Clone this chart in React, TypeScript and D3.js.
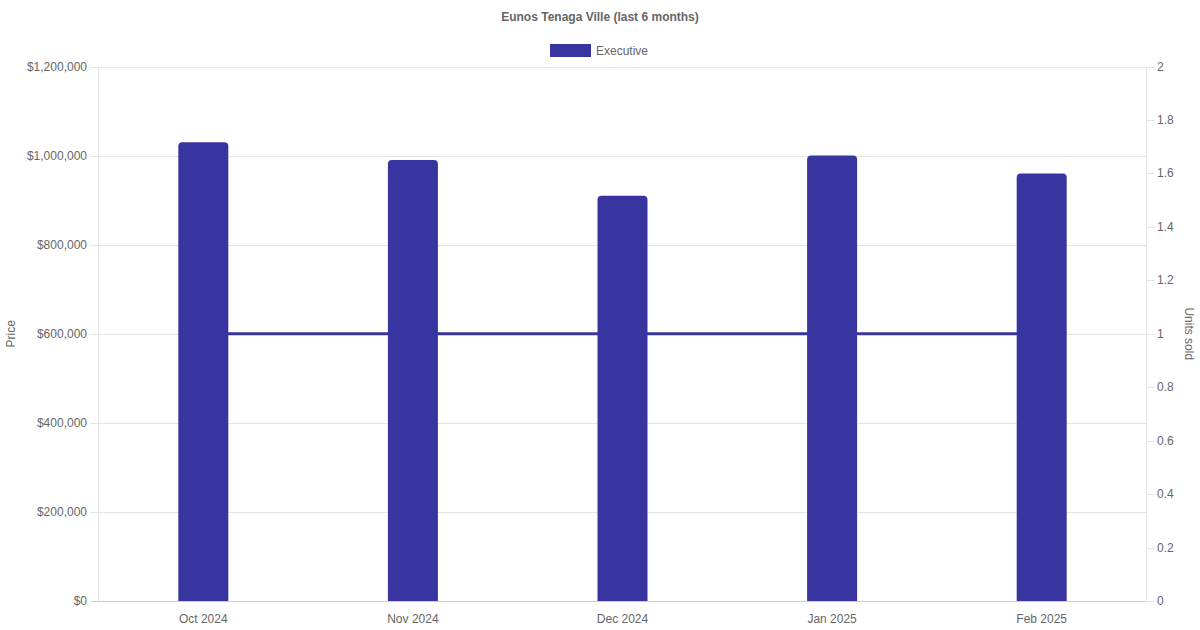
import React from "react";
import * as d3 from "d3";

const months = ["Oct 2024", "Nov 2024", "Dec 2024", "Jan 2025", "Feb 2025"];
const prices = [1030000, 990000, 910000, 1000000, 960000];
const unitsSold = [1, 1, 1, 1, 1];
const priceTicks = [0, 200000, 400000, 600000, 800000, 1000000, 1200000];
const unitTicks = [0, 0.2, 0.4, 0.6, 0.8, 1, 1.2, 1.4, 1.6, 1.8, 2];

const W = 1200;
const H = 630;
const left = 98.5;
const right = 1146.5;
const top = 66.5;
const bottom = 601;
const color = "#3834a0";
const textColor = "#666";
const font = "'Liberation Sans', Arial, sans-serif";

export default function App() {
  const x = d3.scaleBand<string>().domain(months).range([left, right]);
  const yL = d3.scaleLinear().domain([0, 1200000]).range([bottom, top]);
  const yR = d3.scaleLinear().domain([0, 2]).range([bottom, top]);
  const fmt = (v: number) => "$" + d3.format(",")(v);
  const barW = 50;
  const r = 4;
  const line = d3
    .line<number>()
    .x((_, i) => (x(months[i]) as number) + x.bandwidth() / 2)
    .y((d) => yR(d));

  const barPath = (cx: number, yt: number) => {
    const x0 = cx - barW / 2;
    const x1 = cx + barW / 2;
    return `M${x0},${bottom} L${x0},${yt + r} Q${x0},${yt} ${x0 + r},${yt} L${x1 - r},${yt} Q${x1},${yt} ${x1},${yt + r} L${x1},${bottom} Z`;
  };

  return (
    <svg
      width={W}
      height={H}
      style={{ position: "absolute", left: 0, top: 0, background: "#fff" }}
      fontFamily={font}
    >
      <text x={600} y={21} textAnchor="middle" fontSize={12} fontWeight="bold" fill={textColor}>
        Eunos Tenaga Ville (last 6 months)
      </text>
      <rect x={550.5} y={44.5} width={40} height={12} fill={color} stroke={color} strokeWidth={1} />
      <text x={596} y={54.5} fontSize={12} fill={textColor}>
        Executive
      </text>

      {priceTicks.map((t) => (
        <g key={"l" + t}>
          <line
            x1={left - 8}
            x2={right}
            y1={Math.round(yL(t)) + 0.5}
            y2={Math.round(yL(t)) + 0.5}
            stroke={t === 0 ? "#ccc" : "#e4e4e4"}
            strokeWidth={1}
          />
          <text x={87} y={yL(t) + 4} textAnchor="end" fontSize={12} fill={textColor}>
            {fmt(t)}
          </text>
        </g>
      ))}
      <line x1={left} x2={left} y1={top} y2={bottom} stroke="#e4e4e4" />
      <line x1={right} x2={right} y1={top} y2={bottom} stroke="#e4e4e4" />
      {unitTicks.map((t) => (
        <g key={"r" + t}>
          <line
            x1={right}
            x2={right + 8}
            y1={Math.round(yR(t)) + 0.5}
            y2={Math.round(yR(t)) + 0.5}
            stroke="#e4e4e4"
          />
          <text x={1157} y={yR(t) + 4} fontSize={12} fill={textColor}>
            {String(+t.toFixed(1))}
          </text>
        </g>
      ))}
      {months.map((m) => (
        <text
          key={m}
          x={(x(m) as number) + x.bandwidth() / 2}
          y={623}
          textAnchor="middle"
          fontSize={12}
          fill={textColor}
        >
          {m}
        </text>
      ))}
      <text
        transform={`translate(15,${(top + bottom) / 2}) rotate(-90)`}
        textAnchor="middle"
        fontSize={12}
        fill={textColor}
      >
        Price
      </text>
      <text
        transform={`translate(1185,${(top + bottom) / 2}) rotate(90)`}
        textAnchor="middle"
        fontSize={12}
        fill={textColor}
      >
        Units sold
      </text>

      <path d={line(unitsSold) || ""} fill="none" stroke={color} strokeWidth={3} />
      {months.map((m, i) => (
        <path
          key={"b" + m}
          d={barPath((x(m) as number) + x.bandwidth() / 2, yL(prices[i]))}
          fill={color}
        />
      ))}
    </svg>
  );
}
